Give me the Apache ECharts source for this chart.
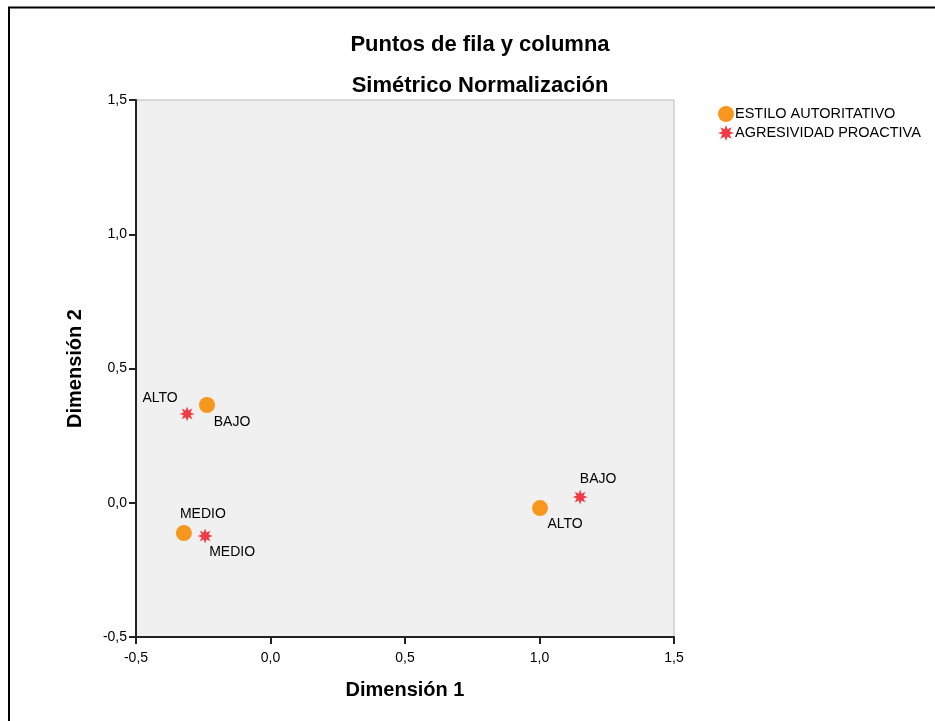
<!DOCTYPE html>
<html>
<head>
<meta charset="utf-8">
<script src="https://cdn.jsdelivr.net/npm/echarts@6/dist/echarts.min.js"></script>
<style>
  html, body { margin: 0; padding: 0; background: #fff; }
  #main { width: 935px; height: 721px; }
</style>
</head>
<body>
<div id="main"></div>
<script>
// row / column points (SPSS correspondence plot)
var estiloNames = ['BAJO', 'MEDIO', 'ALTO'];
var estiloX = [-0.236, -0.322, 1.002];
var estiloY = [0.364, -0.113, -0.020];

var agresNames = ['ALTO', 'MEDIO', 'BAJO'];
var agresX = [-0.310, -0.243, 1.151];
var agresY = [0.331, -0.124, 0.021];

var axisTicks = [-0.5, 0.0, 0.5, 1.0, 1.5];

// label offsets (px) for each point, same order as above
var estiloLabelOffset = [[25, 17], [19, -19], [25, 16]];
var agresLabelOffset = [[-27, -16], [27, 16], [18, -18]];

function starPath() {
    var pts = [];
    var n = 8;
    for (var i = 0; i < n * 2; i++) {
        var r = (i % 2 === 0) ? 10 : 5;
        var a = Math.PI * i / n - Math.PI / 2;
        pts.push((10 + r * Math.cos(a)).toFixed(2) + ',' + (10 + r * Math.sin(a)).toFixed(2));
    }
    return 'path://M' + pts.join('L') + 'Z';
}
var STAR = starPath();

function buildData(xs, ys, names, offs) {
    var out = [];
    for (var i = 0; i < xs.length; i++) {
        out.push({
            value: [xs[i], ys[i]],
            name: names[i],
            label: { offset: offs[i] }
        });
    }
    return out;
}

function fmt(v) {
    return v.toFixed(1).replace('.', ',');
}

var chart = echarts.init(document.getElementById('main'));
var font = 'Liberation Sans, Arial, sans-serif';

var option = {
    backgroundColor: '#fff',
    animation: false,
    textStyle: { fontFamily: font },
    graphic: [
        {
            type: 'rect',
            shape: { x: 9, y: 7.5, width: 1000, height: 800 },
            style: { fill: 'none', stroke: '#000', lineWidth: 2 },
            silent: true
        }
    ],
    title: [
        {
            text: 'Puntos de fila y columna',
            left: 475, top: 29, textAlign: 'center',
            textStyle: { fontFamily: font, fontSize: 22, fontWeight: 'bold', color: '#000' }
        },
        {
            text: 'Simétrico Normalización',
            left: 475, top: 70, textAlign: 'center',
            textStyle: { fontFamily: font, fontSize: 22, fontWeight: 'bold', color: '#000' }
        }
    ],
    legend: {
        orient: 'vertical',
        left: 713, top: 101,
        itemGap: 3,
        itemWidth: 16, itemHeight: 16,
        textStyle: { fontFamily: font, fontSize: 14.5, color: '#000', padding: [0, 0, 0, -4] },
        data: ['ESTILO AUTORITATIVO', 'AGRESIVIDAD PROACTIVA']
    },
    grid: {
        left: 136, top: 100, width: 538, height: 537,
        show: true,
        backgroundColor: '#f0f0f0',
        borderColor: '#b8b8b8',
        borderWidth: 1
    },
    xAxis: {
        type: 'value',
        min: -0.5, max: 1.5, interval: 0.5,
        name: 'Dimensión 1',
        nameLocation: 'middle',
        nameGap: 43,
        nameTextStyle: { fontFamily: font, fontSize: 20, fontWeight: 'bold', color: '#000' },
        axisLine: { show: true, onZero: false, lineStyle: { color: '#222', width: 2 } },
        axisTick: { show: true, length: 7, lineStyle: { color: '#222', width: 2 } },
        axisLabel: {
            fontFamily: font, fontSize: 14, color: '#000', margin: 14,
            formatter: function (v) { return fmt(v); }
        },
        splitLine: { show: false }
    },
    yAxis: {
        type: 'value',
        min: -0.5, max: 1.5, interval: 0.5,
        name: 'Dimensión 2',
        nameLocation: 'middle',
        nameGap: 51,
        nameTextStyle: { fontFamily: font, fontSize: 20, fontWeight: 'bold', color: '#000' },
        axisLine: { show: true, onZero: false, lineStyle: { color: '#222', width: 2 } },
        axisTick: { show: true, length: 7, lineStyle: { color: '#222', width: 2 } },
        axisLabel: {
            fontFamily: font, fontSize: 14, color: '#000', margin: 9,
            formatter: function (v) { return fmt(v); }
        },
        splitLine: { show: false }
    },
    series: [
        {
            name: 'ESTILO AUTORITATIVO',
            type: 'scatter',
            symbol: 'circle',
            symbolSize: 16,
            itemStyle: { color: '#f7971d', opacity: 1 },
            label: {
                show: true, position: 'inside',
                formatter: '{b}',
                fontFamily: font, fontSize: 14, color: '#000'
            },
            data: buildData(estiloX, estiloY, estiloNames, estiloLabelOffset)
        },
        {
            name: 'AGRESIVIDAD PROACTIVA',
            type: 'scatter',
            symbol: STAR,
            symbolSize: 15,
            itemStyle: { color: '#f03a44', opacity: 1 },
            label: {
                show: true, position: 'inside',
                formatter: '{b}',
                fontFamily: font, fontSize: 14, color: '#000'
            },
            data: buildData(agresX, agresY, agresNames, agresLabelOffset)
        }
    ]
};

chart.setOption(option);
</script>
</body>
</html>
